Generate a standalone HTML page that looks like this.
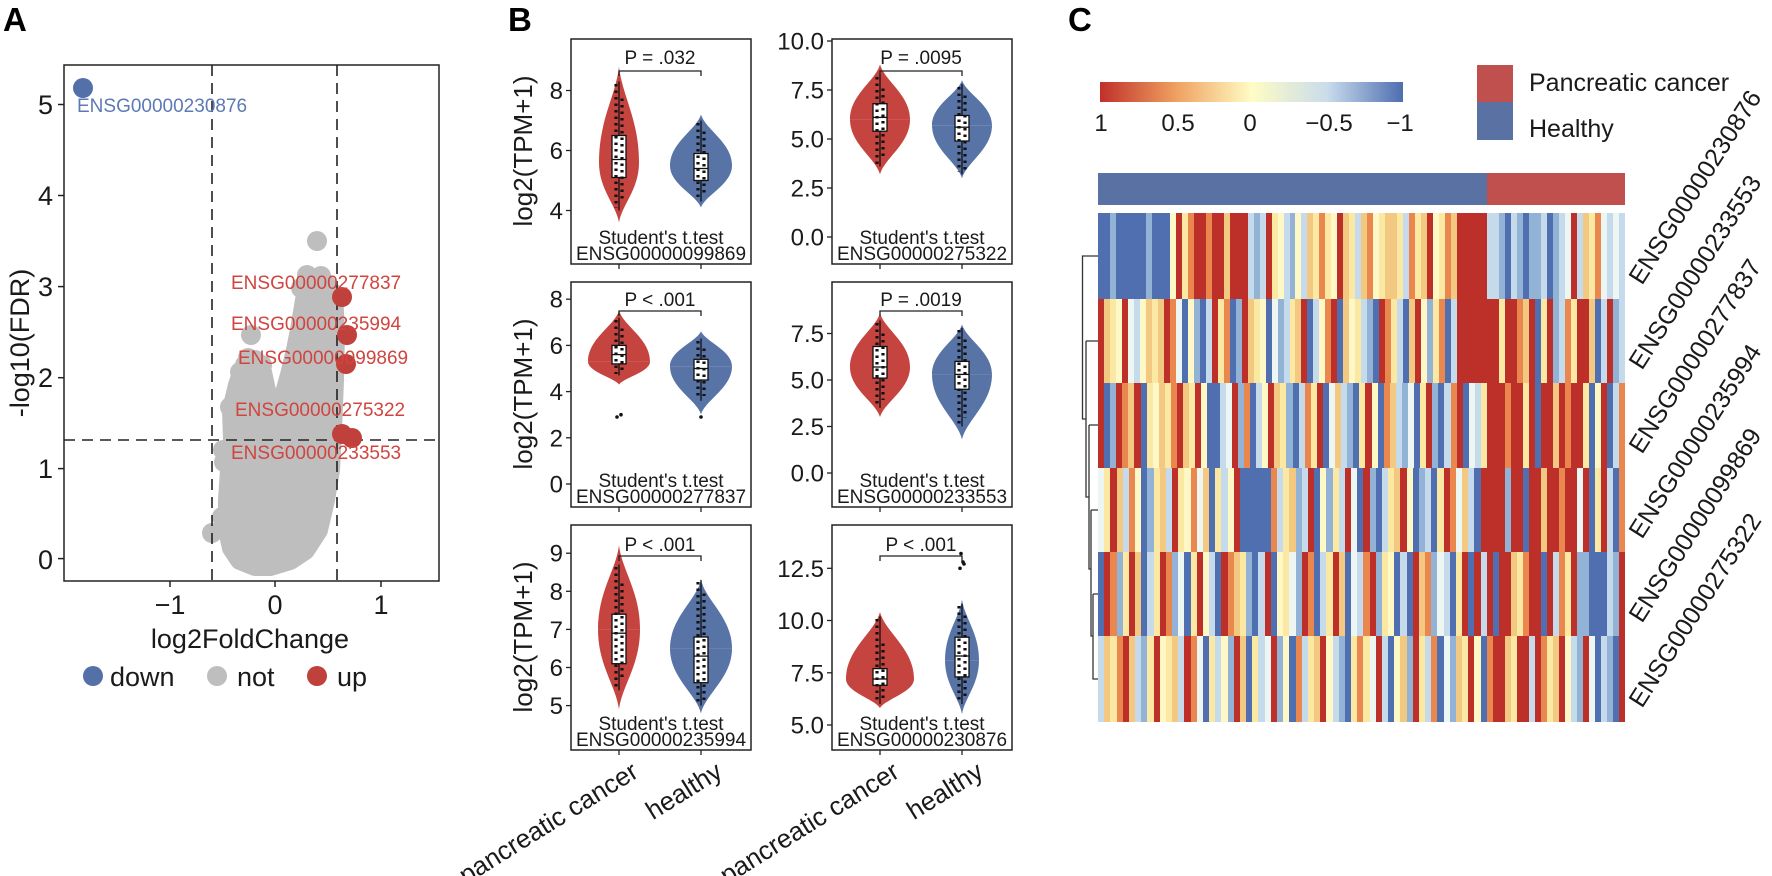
<!DOCTYPE html>
<html><head><meta charset="utf-8"><style>
html,body{margin:0;padding:0;background:#fff;}
#wrap{position:relative;width:1772px;height:876px;overflow:hidden;}
svg{position:absolute;left:0;top:0;font-family:"Liberation Sans",Arial,sans-serif;}
.row{position:absolute;display:flex;}
.row i{flex:1 1 0;display:block;}
i.r{background:#bd2f29}i.o{background:#e9874f}i.l{background:#f3c982}i.y{background:#fbe8a2}
i.p{background:#fdf8c6}i.w{background:#edf6f3}i.c{background:#c5dbeb}i.m{background:#93b3d6}i.b{background:#4f6fb1}
</style></head><body><div id="wrap">
<svg width="1772" height="876" viewBox="0 0 1772 876" xmlns="http://www.w3.org/2000/svg">
<defs>
<path id="vu" d="M0,-1 C0.15,-0.7 1,-0.45 1,0 L-1,0 C-1,-0.45 -0.15,-0.7 0,-1Z"/>
<path id="vl" d="M-1,0 L1,0 C1,0.45 0.15,0.7 0,1 C-0.15,0.7 -1,0.45 -1,0Z"/>
<clipPath id="ca"><rect x="64" y="65" width="375" height="516"/></clipPath>
<linearGradient id="cb" x1="0" y1="0" x2="1" y2="0">
<stop offset="0" stop-color="#c0302a"/><stop offset="0.25" stop-color="#efa060"/><stop offset="0.5" stop-color="#fffcc4"/><stop offset="0.75" stop-color="#c9dcec"/><stop offset="1" stop-color="#4d6eb0"/>
</linearGradient>
</defs>
<rect width="1772" height="876" fill="#fff"/>
<text x="3" y="31" font-size="33" font-weight="bold">A</text>
<text x="508" y="31" font-size="33" font-weight="bold">B</text>
<text x="1068" y="31" font-size="33" font-weight="bold">C</text>

<!-- ===== Panel A ===== -->
<g clip-path="url(#ca)">
<path d="M240,560 L232,548 L228,530 L228,500 L230,470 L233,440 L232,410 L238,385 L245,365 L255,360 L262,372 L268,400 L272,430 L280,430 L283,400 L290,375 L296,350 L300,330 L305,300 L312,285 L325,283 L333,295 L335,330 L334,380 L332,430 L330,470 L325,500 L318,530 L305,550 L290,560 L270,566 L255,566 Z" fill="#bebebe" stroke="#bebebe" stroke-width="20" stroke-linejoin="round"/>
<g fill="#bebebe">
<circle cx="317" cy="241" r="10"/><circle cx="307" cy="275" r="10"/><circle cx="321" cy="276" r="10"/><circle cx="301" cy="288" r="10"/>
<circle cx="251" cy="335" r="10"/><circle cx="230" cy="407" r="10"/><circle cx="223" cy="450" r="10"/><circle cx="224" cy="462" r="10"/>
<circle cx="222" cy="517" r="10"/><circle cx="212" cy="533" r="10"/><circle cx="334" cy="294" r="10"/><circle cx="305" cy="333" r="10"/>
<circle cx="325" cy="360" r="10"/><circle cx="240" cy="540" r="10"/><circle cx="260" cy="555" r="10"/><circle cx="300" cy="553" r="10"/>
<circle cx="248" cy="358" r="10"/><circle cx="240" cy="372" r="10"/><circle cx="262" cy="365" r="10"/>
</g>
<g stroke="#222" stroke-width="1.6" stroke-dasharray="11,7">
<line x1="212" y1="65" x2="212" y2="581"/><line x1="337" y1="65" x2="337" y2="581"/><line x1="64" y1="440" x2="439" y2="440"/>
</g>
<g fill="#c0403c"><circle cx="342" cy="297" r="10"/><circle cx="347" cy="335" r="10"/><circle cx="346" cy="364" r="10"/><circle cx="342" cy="434" r="10"/><circle cx="352" cy="438" r="10"/></g>
<circle cx="83" cy="88" r="10" fill="#5470a8"/>
</g>
<text x="77" y="112" font-size="19" fill="#5d7ab5">ENSG00000230876</text>
<g font-size="19" fill="#d0453f">
<text x="231" y="289">ENSG00000277837</text><text x="231" y="330">ENSG00000235994</text><text x="238" y="364">ENSG00000099869</text>
<text x="235" y="416">ENSG00000275322</text><text x="231" y="459">ENSG00000233553</text>
</g>
<rect x="64" y="65" width="375" height="516" fill="none" stroke="#222" stroke-width="1.5"/>
<g stroke="#222" stroke-width="1.5">
<line x1="58" y1="104.5" x2="64" y2="104.5"/><line x1="58" y1="195.5" x2="64" y2="195.5"/><line x1="58" y1="286.6" x2="64" y2="286.6"/>
<line x1="58" y1="377.7" x2="64" y2="377.7"/><line x1="58" y1="468.6" x2="64" y2="468.6"/><line x1="58" y1="558.6" x2="64" y2="558.6"/>
<line x1="170" y1="581" x2="170" y2="587"/><line x1="275" y1="581" x2="275" y2="587"/><line x1="381" y1="581" x2="381" y2="587"/>
</g>
<g font-size="27" fill="#1a1a1a">
<text x="53" y="114" text-anchor="end">5</text><text x="53" y="205" text-anchor="end">4</text><text x="53" y="296" text-anchor="end">3</text>
<text x="53" y="387" text-anchor="end">2</text><text x="53" y="478" text-anchor="end">1</text><text x="53" y="569" text-anchor="end">0</text>
<text x="170" y="614" text-anchor="middle">−1</text><text x="275" y="614" text-anchor="middle">0</text><text x="381" y="614" text-anchor="middle">1</text>
<text x="250" y="648" text-anchor="middle">log2FoldChange</text>
<text transform="translate(29,343) rotate(-90)" text-anchor="middle">-log10(FDR)</text>
<circle cx="93" cy="676" r="10" fill="#5470a8"/><text x="110" y="686">down</text>
<circle cx="217" cy="676" r="10" fill="#bebebe"/><text x="237" y="686">not</text>
<circle cx="317" cy="676" r="10" fill="#c0403c"/><text x="337" y="686">up</text>
</g>

<!-- ===== Panel B ===== -->
<g fill="#c5443f">
<use href="#vu" transform="translate(619,162.5) scale(20,96)"/><use href="#vl" transform="translate(619,162.5) scale(20,60)"/>
<use href="#vu" transform="translate(880,119.4) scale(30,55)"/><use href="#vl" transform="translate(880,119.4) scale(30,55)"/>
<use href="#vu" transform="translate(619,361.6) scale(31,51)"/><use href="#vl" transform="translate(619,361.6) scale(31,23)"/>
<use href="#vu" transform="translate(880,367) scale(30,54)"/><use href="#vl" transform="translate(880,367) scale(30,50)"/>
<use href="#vu" transform="translate(619,629.4) scale(21,84)"/><use href="#vl" transform="translate(619,629.4) scale(21,80)"/>
<use href="#vu" transform="translate(880,679) scale(34,67)"/><use href="#vl" transform="translate(880,679) scale(34,29)"/>
</g>
<g fill="#5873a6">
<use href="#vu" transform="translate(701,165.5) scale(31,51)"/><use href="#vl" transform="translate(701,165.5) scale(31,42)"/>
<use href="#vu" transform="translate(962,125.3) scale(30,45)"/><use href="#vl" transform="translate(962,125.3) scale(30,53)"/>
<use href="#vu" transform="translate(701,366.2) scale(31,35)"/><use href="#vl" transform="translate(701,366.2) scale(31,48)"/>
<use href="#vu" transform="translate(962,374.4) scale(30,50)"/><use href="#vl" transform="translate(962,374.4) scale(30,65)"/>
<use href="#vu" transform="translate(701,648.4) scale(31,68.5)"/><use href="#vl" transform="translate(701,648.4) scale(31,65)"/>
<use href="#vu" transform="translate(962,660.2) scale(17,60.6)"/><use href="#vl" transform="translate(962,660.2) scale(17,54)"/>
</g>
<g stroke="#111" stroke-width="1.3">
<line x1="619" y1="81.5" x2="619" y2="210.5"/><line x1="701" y1="120.5" x2="701" y2="201.5"/>
<line x1="880" y1="74.3" x2="880" y2="166.4"/><line x1="962" y1="84.1" x2="962" y2="174.3"/>
<line x1="619" y1="317.7" x2="619" y2="375.4"/><line x1="701" y1="338.5" x2="701" y2="400.8"/>
<line x1="880" y1="320.5" x2="880" y2="407.9"/><line x1="962" y1="327.9" x2="962" y2="426.5"/>
<line x1="619" y1="564.6" x2="619" y2="690.4"/><line x1="701" y1="579.9" x2="701" y2="705.6"/>
<line x1="880" y1="616.3" x2="880" y2="704.1"/><line x1="962" y1="603.8" x2="962" y2="704.1"/>
</g>
<g fill="#fff" stroke="#111" stroke-width="1.3">
<rect x="612" y="135.5" width="14" height="42"/><rect x="694" y="153.5" width="14" height="27"/>
<rect x="873" y="103.7" width="14" height="27.5"/><rect x="955" y="115.5" width="14" height="25.5"/>
<rect x="612" y="345.4" width="14" height="18.5"/><rect x="694" y="359.3" width="14" height="20.7"/>
<rect x="873" y="346.5" width="14" height="31.6"/><rect x="955" y="361.4" width="14" height="27.9"/>
<rect x="612" y="614.2" width="14" height="49.5"/><rect x="694" y="637" width="14" height="45.7"/>
<rect x="873" y="668.6" width="14" height="16.7"/><rect x="955" y="637.2" width="14" height="39.7"/>
</g>
<g stroke="#111" stroke-width="1.3">
<line x1="612" y1="159.5" x2="626" y2="159.5"/><line x1="694" y1="168.5" x2="708" y2="168.5"/>
<line x1="873" y1="117.4" x2="887" y2="117.4"/><line x1="955" y1="127.2" x2="969" y2="127.2"/>
<line x1="612" y1="354.6" x2="626" y2="354.6"/><line x1="694" y1="368.5" x2="708" y2="368.5"/>
<line x1="873" y1="367" x2="887" y2="367"/><line x1="955" y1="374.4" x2="969" y2="374.4"/>
<line x1="612" y1="633.2" x2="626" y2="633.2"/><line x1="694" y1="656.1" x2="708" y2="656.1"/>
<line x1="873" y1="679" x2="887" y2="679"/><line x1="955" y1="656" x2="969" y2="656"/>
</g>
<g stroke="#111" stroke-width="3.2" stroke-dasharray="2.5 4">
<line x1="616" y1="84" x2="616" y2="208"/><line x1="622" y1="95" x2="622" y2="200" stroke-dashoffset="3"/>
<line x1="698" y1="123" x2="698" y2="199"/><line x1="704" y1="128" x2="704" y2="196" stroke-dashoffset="3"/>
<line x1="877" y1="77" x2="877" y2="164"/><line x1="883" y1="85" x2="883" y2="158" stroke-dashoffset="3"/>
<line x1="959" y1="87" x2="959" y2="172"/><line x1="965" y1="92" x2="965" y2="170" stroke-dashoffset="3"/>
<line x1="616" y1="320" x2="616" y2="374"/><line x1="622" y1="325" x2="622" y2="370" stroke-dashoffset="3"/>
<line x1="698" y1="341" x2="698" y2="399"/><line x1="704" y1="345" x2="704" y2="396" stroke-dashoffset="3"/>
<line x1="877" y1="323" x2="877" y2="406"/><line x1="883" y1="330" x2="883" y2="400" stroke-dashoffset="3"/>
<line x1="959" y1="330" x2="959" y2="424"/><line x1="965" y1="336" x2="965" y2="418" stroke-dashoffset="3"/>
<line x1="616" y1="567" x2="616" y2="688"/><line x1="622" y1="580" x2="622" y2="680" stroke-dashoffset="3"/>
<line x1="698" y1="582" x2="698" y2="703"/><line x1="704" y1="590" x2="704" y2="700" stroke-dashoffset="3"/>
<line x1="877" y1="619" x2="877" y2="702"/><line x1="883" y1="640" x2="883" y2="700" stroke-dashoffset="3"/>
<line x1="959" y1="606" x2="959" y2="702"/><line x1="965" y1="612" x2="965" y2="700" stroke-dashoffset="3"/>
</g>
<g fill="#111"><circle cx="617" cy="417" r="1.8"/><circle cx="621" cy="414.7" r="1.8"/><circle cx="701" cy="417" r="1.8"/>
<circle cx="960" cy="568.3" r="1.8"/><circle cx="963" cy="562" r="1.8"/><circle cx="961" cy="553.6" r="1.8"/><circle cx="964" cy="564" r="1.8"/></g>
<g fill="none" stroke="#222" stroke-width="1.5">
<rect x="571" y="39" width="180" height="225"/><rect x="832" y="39" width="180" height="225"/>
<rect x="571" y="282" width="180" height="225"/><rect x="832" y="282" width="180" height="225"/>
<rect x="571" y="525" width="180" height="225"/><rect x="832" y="525" width="180" height="225"/>
</g>
<g fill="none" stroke="#222" stroke-width="1.3">
<path d="M619,76V71H701V76"/><path d="M880,76V71H962V76"/>
<path d="M619,316V311H701V316"/><path d="M880,316V311H962V316"/>
<path d="M619,561V556H701V561"/><path d="M880,561V556H962V561"/>
</g>
<g stroke="#222" stroke-width="1.3">
<line x1="566" y1="90.5" x2="571" y2="90.5"/><line x1="566" y1="150.5" x2="571" y2="150.5"/><line x1="566" y1="210.5" x2="571" y2="210.5"/>
<line x1="827" y1="41" x2="832" y2="41"/><line x1="827" y1="90" x2="832" y2="90"/><line x1="827" y1="139" x2="832" y2="139"/><line x1="827" y1="188" x2="832" y2="188"/><line x1="827" y1="237" x2="832" y2="237"/>
<line x1="566" y1="299.2" x2="571" y2="299.2"/><line x1="566" y1="345.4" x2="571" y2="345.4"/><line x1="566" y1="391.6" x2="571" y2="391.6"/><line x1="566" y1="437.8" x2="571" y2="437.8"/><line x1="566" y1="484" x2="571" y2="484"/>
<line x1="827" y1="333.5" x2="832" y2="333.5"/><line x1="827" y1="380" x2="832" y2="380"/><line x1="827" y1="426.5" x2="832" y2="426.5"/><line x1="827" y1="473" x2="832" y2="473"/>
<line x1="566" y1="553.2" x2="571" y2="553.2"/><line x1="566" y1="591.3" x2="571" y2="591.3"/><line x1="566" y1="629.4" x2="571" y2="629.4"/><line x1="566" y1="667.5" x2="571" y2="667.5"/><line x1="566" y1="705.6" x2="571" y2="705.6"/>
<line x1="827" y1="568.3" x2="832" y2="568.3"/><line x1="827" y1="620.5" x2="832" y2="620.5"/><line x1="827" y1="672.8" x2="832" y2="672.8"/><line x1="827" y1="725" x2="832" y2="725"/>
<line x1="619" y1="264" x2="619" y2="269"/><line x1="701" y1="264" x2="701" y2="269"/><line x1="880" y1="264" x2="880" y2="269"/><line x1="962" y1="264" x2="962" y2="269"/>
<line x1="619" y1="507" x2="619" y2="512"/><line x1="701" y1="507" x2="701" y2="512"/><line x1="880" y1="507" x2="880" y2="512"/><line x1="962" y1="507" x2="962" y2="512"/>
<line x1="619" y1="750" x2="619" y2="755"/><line x1="701" y1="750" x2="701" y2="755"/><line x1="880" y1="750" x2="880" y2="755"/><line x1="962" y1="750" x2="962" y2="755"/>
</g>
<g font-size="24" fill="#1a1a1a" text-anchor="end">
<text x="563" y="99">8</text><text x="563" y="159">6</text><text x="563" y="219">4</text>
<text x="824" y="49.5">10.0</text><text x="824" y="98.5">7.5</text><text x="824" y="147.5">5.0</text><text x="824" y="196.5">2.5</text><text x="824" y="245.5">0.0</text>
<text x="563" y="307.7">8</text><text x="563" y="353.9">6</text><text x="563" y="400.1">4</text><text x="563" y="446.3">2</text><text x="563" y="492.5">0</text>
<text x="824" y="342">7.5</text><text x="824" y="388.5">5.0</text><text x="824" y="435">2.5</text><text x="824" y="481.5">0.0</text>
<text x="563" y="561.7">9</text><text x="563" y="599.8">8</text><text x="563" y="637.9">7</text><text x="563" y="676">6</text><text x="563" y="714.1">5</text>
<text x="824" y="576.8">12.5</text><text x="824" y="629">10.0</text><text x="824" y="681.3">7.5</text><text x="824" y="733.5">5.0</text>
</g>
<g font-size="19" fill="#1a1a1a" text-anchor="middle">
<text x="660" y="64">P = .032</text><text x="921" y="64">P = .0095</text>
<text x="660" y="306">P &lt; .001</text><text x="921" y="306">P = .0019</text>
<text x="660" y="551">P &lt; .001</text><text x="921" y="551">P &lt; .001</text>
<text x="661" y="244">Student's t.test</text><text x="661" y="260">ENSG00000099869</text>
<text x="922" y="244">Student's t.test</text><text x="922" y="260">ENSG00000275322</text>
<text x="661" y="487">Student's t.test</text><text x="661" y="503">ENSG00000277837</text>
<text x="922" y="487">Student's t.test</text><text x="922" y="503">ENSG00000233553</text>
<text x="661" y="730">Student's t.test</text><text x="661" y="746">ENSG00000235994</text>
<text x="922" y="730">Student's t.test</text><text x="922" y="746">ENSG00000230876</text>
</g>
<g font-size="26" fill="#1a1a1a" text-anchor="middle">
<text transform="translate(532,151) rotate(-90)">log2(TPM+1)</text>
<text transform="translate(532,394) rotate(-90)">log2(TPM+1)</text>
<text transform="translate(532,637) rotate(-90)">log2(TPM+1)</text>
</g>
<g font-size="26" fill="#1a1a1a" text-anchor="end">
<text transform="translate(640,776) rotate(-32)">pancreatic cancer</text>
<text transform="translate(724,776) rotate(-32)">healthy</text>
<text transform="translate(901,776) rotate(-32)">pancreatic cancer</text>
<text transform="translate(985,776) rotate(-32)">healthy</text>
</g>

<!-- ===== Panel C ===== -->
<rect x="1100" y="82" width="303" height="20" fill="url(#cb)"/>
<g font-size="24" fill="#1a1a1a" text-anchor="middle">
<text x="1101" y="131">1</text><text x="1178" y="131">0.5</text><text x="1250" y="131">0</text><text x="1329" y="131">−0.5</text><text x="1400" y="131">−1</text>
</g>
<rect x="1477" y="65" width="36" height="37" fill="#c0504d"/>
<rect x="1477" y="102" width="36" height="38" fill="#5a72a3"/>
<text x="1529" y="91" font-size="25" fill="#1a1a1a">Pancreatic cancer</text>
<text x="1529" y="137" font-size="25" fill="#1a1a1a">Healthy</text>
<rect x="1098" y="173" width="389" height="32" fill="#5a72a3"/>
<rect x="1487" y="173" width="138" height="32" fill="#c0504d"/>
<path d="M1098,256H1082.5V419H1086 M1086,341H1098 M1086,341V497H1089 M1089,425H1098 M1089,425V569H1091 M1091,510H1098 M1091,510V636H1093 M1093,594H1098 M1093,594V679H1098" fill="none" stroke="#333" stroke-width="1.3"/>
<g font-size="25" fill="#1a1a1a">
<text transform="translate(1642,286) rotate(-57.5)">ENSG00000230876</text>
<text transform="translate(1642,371) rotate(-57.5)">ENSG00000233553</text>
<text transform="translate(1642,455) rotate(-57.5)">ENSG00000277837</text>
<text transform="translate(1642,540) rotate(-57.5)">ENSG00000235994</text>
<text transform="translate(1642,624) rotate(-57.5)">ENSG00000099869</text>
<text transform="translate(1642,709) rotate(-57.5)">ENSG00000275322</text>
</g>
</svg>

<div class="row" style="left:1098px;top:213.4px;width:389px;height:85.5px"><i class=b></i><i class=b></i><i class=m></i><i class=b></i><i class=b></i><i class=b></i><i class=b></i><i class=b></i><i class=m></i><i class=b></i><i class=b></i><i class=b></i><i class=p></i><i class=r></i><i class=y></i><i class=o></i><i class=r></i><i class=r></i><i class=o></i><i class=r></i><i class=r></i><i class=l></i><i class=r></i><i class=r></i><i class=r></i><i class=c></i><i class=m></i><i class=c></i><i class=r></i><i class=y></i><i class=p></i><i class=c></i><i class=m></i><i class=p></i><i class=c></i><i class=l></i><i class=y></i><i class=o></i><i class=y></i><i class=p></i><i class=r></i><i class=l></i><i class=y></i><i class=c></i><i class=l></i><i class=o></i><i class=p></i><i class=y></i><i class=l></i><i class=l></i><i class=y></i><i class=c></i><i class=o></i><i class=y></i><i class=l></i><i class=r></i><i class=p></i><i class=y></i><i class=o></i><i class=l></i><i class=r></i><i class=r></i><i class=r></i><i class=r></i><i class=r></i></div>
<div class="row" style="left:1487px;top:213.4px;width:138px;height:85.5px"><i class=c></i><i class=c></i><i class=m></i><i class=b></i><i class=c></i><i class=m></i><i class=b></i><i class=m></i><i class=m></i><i class=c></i><i class=b></i><i class=m></i><i class=c></i><i class=w></i><i class=r></i><i class=c></i><i class=l></i><i class=y></i><i class=o></i><i class=w></i><i class=c></i><i class=w></i><i class=c></i></div>

<div class="row" style="left:1098px;top:298.9px;width:389px;height:84.3px"><i class=r></i><i class=l></i><i class=y></i><i class=p></i><i class=r></i><i class=w></i><i class=c></i><i class=p></i><i class=l></i><i class=y></i><i class=l></i><i class=r></i><i class=o></i><i class=w></i><i class=b></i><i class=p></i><i class=m></i><i class=b></i><i class=c></i><i class=r></i><i class=y></i><i class=o></i><i class=b></i><i class=m></i><i class=r></i><i class=l></i><i class=y></i><i class=p></i><i class=b></i><i class=w></i><i class=m></i><i class=c></i><i class=y></i><i class=l></i><i class=r></i><i class=b></i><i class=c></i><i class=p></i><i class=o></i><i class=r></i><i class=b></i><i class=l></i><i class=p></i><i class=y></i><i class=c></i><i class=m></i><i class=b></i><i class=r></i><i class=o></i><i class=y></i><i class=c></i><i class=b></i><i class=l></i><i class=r></i><i class=p></i><i class=m></i><i class=y></i><i class=o></i><i class=b></i><i class=c></i><i class=r></i><i class=r></i><i class=r></i><i class=r></i><i class=r></i></div>
<div class="row" style="left:1487px;top:298.9px;width:138px;height:84.3px"><i class=r></i><i class=r></i><i class=y></i><i class=r></i><i class=r></i><i class=o></i><i class=l></i><i class=r></i><i class=b></i><i class=y></i><i class=r></i><i class=m></i><i class=c></i><i class=o></i><i class=y></i><i class=r></i><i class=r></i><i class=l></i><i class=b></i><i class=c></i><i class=r></i><i class=m></i><i class=c></i></div>

<div class="row" style="left:1098px;top:383.2px;width:389px;height:84.4px"><i class=r></i><i class=b></i><i class=m></i><i class=r></i><i class=o></i><i class=l></i><i class=r></i><i class=b></i><i class=y></i><i class=p></i><i class=l></i><i class=y></i><i class=o></i><i class=r></i><i class=l></i><i class=y></i><i class=r></i><i class=p></i><i class=b></i><i class=b></i><i class=c></i><i class=w></i><i class=r></i><i class=m></i><i class=o></i><i class=b></i><i class=c></i><i class=p></i><i class=r></i><i class=l></i><i class=y></i><i class=m></i><i class=b></i><i class=c></i><i class=o></i><i class=y></i><i class=r></i><i class=b></i><i class=w></i><i class=l></i><i class=c></i><i class=m></i><i class=b></i><i class=y></i><i class=r></i><i class=p></i><i class=b></i><i class=o></i><i class=l></i><i class=c></i><i class=m></i><i class=w></i><i class=b></i><i class=y></i><i class=r></i><i class=m></i><i class=b></i><i class=c></i><i class=o></i><i class=r></i><i class=b></i><i class=w></i><i class=c></i><i class=y></i></div>
<div class="row" style="left:1487px;top:383.2px;width:138px;height:84.4px"><i class=r></i><i class=r></i><i class=r></i><i class=o></i><i class=r></i><i class=r></i><i class=y></i><i class=r></i><i class=b></i><i class=r></i><i class=r></i><i class=l></i><i class=r></i><i class=o></i><i class=r></i><i class=r></i><i class=y></i><i class=b></i><i class=p></i><i class=r></i><i class=b></i><i class=c></i><i class=o></i></div>

<div class="row" style="left:1098px;top:467.6px;width:389px;height:84.4px"><i class=w></i><i class=y></i><i class=r></i><i class=l></i><i class=c></i><i class=o></i><i class=p></i><i class=b></i><i class=m></i><i class=y></i><i class=l></i><i class=c></i><i class=r></i><i class=y></i><i class=p></i><i class=o></i><i class=w></i><i class=l></i><i class=b></i><i class=y></i><i class=c></i><i class=p></i><i class=r></i><i class=b></i><i class=b></i><i class=b></i><i class=b></i><i class=b></i><i class=o></i><i class=c></i><i class=y></i><i class=l></i><i class=m></i><i class=c></i><i class=r></i><i class=b></i><i class=p></i><i class=m></i><i class=y></i><i class=c></i><i class=r></i><i class=w></i><i class=b></i><i class=r></i><i class=m></i><i class=b></i><i class=c></i><i class=y></i><i class=l></i><i class=r></i><i class=p></i><i class=b></i><i class=m></i><i class=c></i><i class=b></i><i class=y></i><i class=r></i><i class=o></i><i class=w></i><i class=l></i><i class=c></i><i class=b></i><i class=r></i></div>
<div class="row" style="left:1487px;top:467.6px;width:138px;height:84.4px"><i class=r></i><i class=r></i><i class=r></i><i class=m></i><i class=r></i><i class=r></i><i class=b></i><i class=r></i><i class=r></i><i class=l></i><i class=r></i><i class=r></i><i class=o></i><i class=r></i><i class=r></i><i class=w></i><i class=r></i><i class=b></i><i class=y></i><i class=r></i><i class=c></i><i class=b></i><i class=o></i></div>

<div class="row" style="left:1098px;top:552px;width:389px;height:84.3px"><i class=b></i><i class=r></i><i class=o></i><i class=m></i><i class=y></i><i class=r></i><i class=l></i><i class=b></i><i class=c></i><i class=y></i><i class=r></i><i class=o></i><i class=m></i><i class=w></i><i class=b></i><i class=y></i><i class=r></i><i class=p></i><i class=c></i><i class=b></i><i class=r></i><i class=o></i><i class=l></i><i class=y></i><i class=m></i><i class=b></i><i class=c></i><i class=r></i><i class=b></i><i class=p></i><i class=y></i><i class=w></i><i class=m></i><i class=r></i><i class=o></i><i class=b></i><i class=c></i><i class=y></i><i class=r></i><i class=l></i><i class=b></i><i class=w></i><i class=c></i><i class=o></i><i class=r></i><i class=m></i><i class=y></i><i class=p></i><i class=b></i><i class=c></i><i class=b></i><i class=r></i><i class=l></i><i class=o></i><i class=m></i><i class=w></i><i class=c></i><i class=b></i><i class=y></i><i class=r></i><i class=b></i><i class=r></i><i class=c></i></div>
<div class="row" style="left:1487px;top:552px;width:138px;height:84.3px"><i class=r></i><i class=b></i><i class=r></i><i class=r></i><i class=l></i><i class=y></i><i class=o></i><i class=r></i><i class=r></i><i class=b></i><i class=r></i><i class=c></i><i class=o></i><i class=y></i><i class=r></i><i class=m></i><i class=m></i><i class=b></i><i class=b></i><i class=b></i><i class=c></i><i class=m></i><i class=r></i></div>

<div class="row" style="left:1098px;top:636.3px;width:389px;height:85.5px"><i class=c></i><i class=l></i><i class=y></i><i class=o></i><i class=r></i><i class=l></i><i class=c></i><i class=m></i><i class=y></i><i class=r></i><i class=p></i><i class=y></i><i class=l></i><i class=c></i><i class=r></i><i class=o></i><i class=w></i><i class=b></i><i class=y></i><i class=c></i><i class=p></i><i class=m></i><i class=r></i><i class=l></i><i class=b></i><i class=y></i><i class=c></i><i class=w></i><i class=r></i><i class=m></i><i class=p></i><i class=b></i><i class=o></i><i class=c></i><i class=y></i><i class=l></i><i class=r></i><i class=p></i><i class=c></i><i class=m></i><i class=b></i><i class=y></i><i class=o></i><i class=y></i><i class=w></i><i class=r></i><i class=c></i><i class=b></i><i class=p></i><i class=l></i><i class=m></i><i class=r></i><i class=y></i><i class=c></i><i class=o></i><i class=b></i><i class=w></i><i class=m></i><i class=l></i><i class=y></i><i class=r></i><i class=p></i><i class=b></i></div>
<div class="row" style="left:1487px;top:636.3px;width:138px;height:85.5px"><i class=o></i><i class=r></i><i class=r></i><i class=l></i><i class=y></i><i class=r></i><i class=r></i><i class=c></i><i class=r></i><i class=o></i><i class=y></i><i class=l></i><i class=r></i><i class=p></i><i class=c></i><i class=m></i><i class=r></i><i class=w></i><i class=b></i><i class=c></i><i class=m></i><i class=b></i><i class=r></i></div>
</div></body></html>
